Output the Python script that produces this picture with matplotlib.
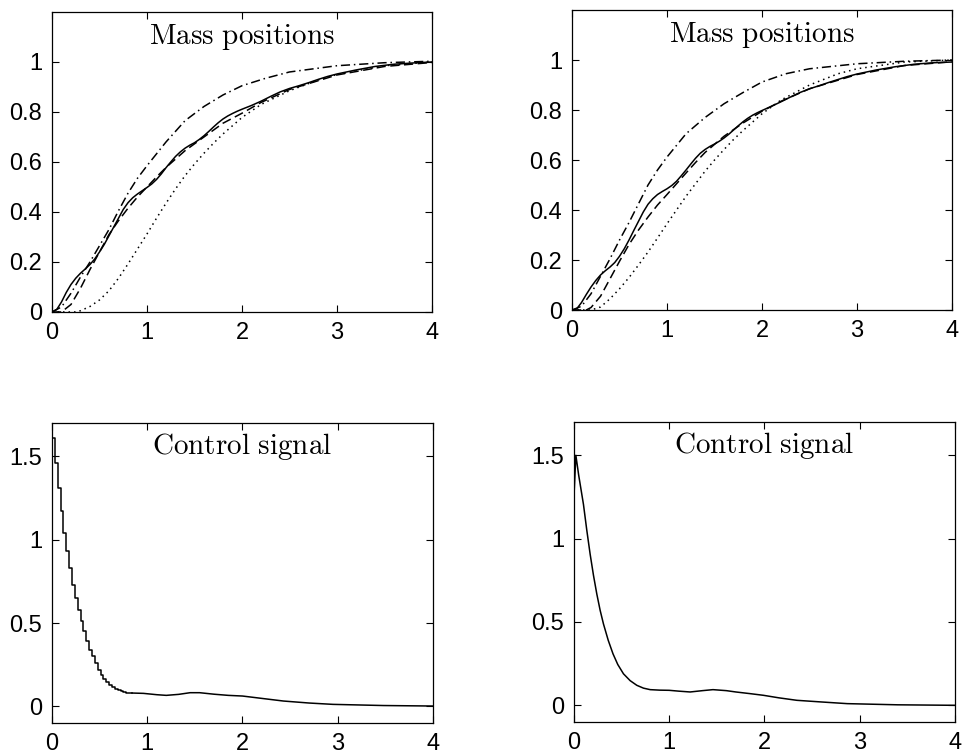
import matplotlib
matplotlib.use('Agg')
import matplotlib.pyplot as plt

plt.rcParams['font.family'] = ['Liberation Sans', 'DejaVu Sans']
plt.rcParams['mathtext.fontset'] = 'cm'

# ---- mass positions, left panel ----
tl_solid_t = [0.00, 0.05, 0.10, 0.15, 0.20, 0.25, 0.30, 0.35, 0.40, 0.45, 0.50, 0.55, 0.60, 0.65,
              0.70, 0.75, 0.80, 0.85, 0.90, 0.95, 1.00, 1.05, 1.10, 1.15, 1.20, 1.25, 1.30, 1.35,
              1.40, 1.45, 1.50, 1.55, 1.60, 1.65, 1.70, 1.75, 1.80, 1.85, 1.90, 1.95, 2.00, 2.10,
              2.20, 2.30, 2.40, 2.50, 2.60, 2.70, 2.80, 2.90, 3.00, 3.20, 3.40, 3.60, 3.80, 4.00]
tl_solid_y = [0.000, 0.010, 0.040, 0.078, 0.110, 0.135, 0.155, 0.172, 0.190, 0.212, 0.240, 0.270,
              0.305, 0.340, 0.375, 0.410, 0.437, 0.457, 0.472, 0.485, 0.498, 0.512, 0.530, 0.552,
              0.577, 0.600, 0.622, 0.640, 0.655, 0.667, 0.677, 0.690, 0.705, 0.722, 0.740, 0.757,
              0.772, 0.784, 0.794, 0.803, 0.811, 0.826, 0.843, 0.862, 0.880, 0.894, 0.905, 0.917,
              0.930, 0.942, 0.952, 0.968, 0.982, 0.991, 0.996, 1.000]
tl_dash_t = [0.00, 0.10, 0.20, 0.30, 0.40, 0.50, 0.60, 0.70, 0.80, 0.90, 1.00, 1.10, 1.20, 1.40,
             1.60, 1.80, 2.00, 2.20, 2.50, 3.00, 3.50, 4.00]
tl_dash_y = [0.000, 0.000, 0.030, 0.095, 0.170, 0.240, 0.310, 0.365, 0.415, 0.460, 0.500, 0.540,
             0.578, 0.645, 0.700, 0.755, 0.795, 0.838, 0.890, 0.948, 0.982, 0.998]
tl_dashdot_t = [0.00, 0.10, 0.20, 0.30, 0.40, 0.50, 0.60, 0.70, 0.80, 0.90, 1.00, 1.20, 1.40,
                1.60, 1.80, 2.00, 2.25, 2.50, 3.00, 3.50, 4.00]
tl_dashdot_y = [0.000, 0.020, 0.075, 0.140, 0.200, 0.265, 0.330, 0.405, 0.475, 0.535, 0.585,
                0.680, 0.765, 0.822, 0.868, 0.905, 0.935, 0.960, 0.985, 0.997, 1.003]
tl_dot_t = [0.00, 0.25, 0.30, 0.40, 0.50, 0.60, 0.70, 0.80, 0.90, 1.00, 1.10, 1.20, 1.30, 1.40,
            1.50, 1.60, 1.70, 1.80, 2.00, 2.20, 2.50, 2.80, 3.00, 3.50, 4.00]
tl_dot_y = [0.000, 0.000, 0.005, 0.022, 0.048, 0.085, 0.135, 0.192, 0.252, 0.312, 0.375, 0.435,
            0.492, 0.545, 0.592, 0.635, 0.675, 0.712, 0.778, 0.830, 0.885, 0.928, 0.950, 0.985,
            1.000]

# ---- mass positions, right panel ----
tr_solid_t = tl_solid_t
tr_solid_y = [0.000, 0.005, 0.030, 0.062, 0.092, 0.118, 0.140, 0.157, 0.172, 0.190, 0.215, 0.245,
              0.280, 0.318, 0.355, 0.392, 0.423, 0.445, 0.462, 0.474, 0.485, 0.498, 0.515, 0.537,
              0.560, 0.584, 0.607, 0.627, 0.642, 0.654, 0.664, 0.675, 0.688, 0.703, 0.720, 0.737,
              0.753, 0.767, 0.779, 0.789, 0.798, 0.815, 0.833, 0.852, 0.870, 0.885, 0.897, 0.910,
              0.922, 0.934, 0.944, 0.960, 0.973, 0.983, 0.989, 0.992]
tr_dash_t = [0.00, 0.15, 0.20, 0.30, 0.40, 0.50, 0.60, 0.70, 0.80, 0.90, 1.00, 1.10, 1.20, 1.30,
             1.40, 1.60, 1.80, 2.00, 2.20, 2.50, 3.00, 3.50, 4.00]
tr_dash_y = [0.000, 0.000, 0.010, 0.055, 0.125, 0.195, 0.262, 0.320, 0.372, 0.420, 0.462, 0.505,
             0.548, 0.590, 0.630, 0.695, 0.748, 0.795, 0.835, 0.885, 0.942, 0.978, 0.993]
tr_dashdot_t = [0.00, 0.10, 0.20, 0.30, 0.40, 0.50, 0.60, 0.70, 0.80, 0.90, 1.00, 1.20, 1.40,
                1.60, 1.80, 2.00, 2.25, 2.50, 3.00, 3.50, 4.00]
tr_dashdot_y = [0.000, 0.015, 0.065, 0.135, 0.205, 0.280, 0.350, 0.425, 0.500, 0.560, 0.612,
                0.705, 0.770, 0.825, 0.870, 0.912, 0.945, 0.965, 0.985, 0.995, 1.000]
tr_dot_t = [0.00, 0.20, 0.30, 0.40, 0.50, 0.60, 0.70, 0.80, 0.90, 1.00, 1.10, 1.20, 1.30, 1.40,
            1.50, 1.60, 1.70, 1.80, 2.00, 2.20, 2.50, 2.80, 3.00, 3.50, 4.00]
tr_dot_y = [0.000, 0.000, 0.012, 0.045, 0.085, 0.130, 0.180, 0.232, 0.288, 0.345, 0.400, 0.455,
            0.505, 0.555, 0.600, 0.642, 0.682, 0.718, 0.785, 0.840, 0.900, 0.945, 0.965, 0.992,
            1.000]

# ---- control signal, left panel (zero order hold, then smooth tail) ----
bl_zoh_t = [0.00, 0.03, 0.06, 0.09, 0.12, 0.15, 0.18, 0.21, 0.24, 0.27, 0.30, 0.33, 0.36, 0.39,
            0.42, 0.45, 0.48, 0.51, 0.54, 0.57, 0.60, 0.63, 0.66, 0.69, 0.72, 0.75, 0.78, 0.81,
            0.84]
bl_zoh_u = [1.61, 1.46, 1.31, 1.17, 1.04, 0.93, 0.83, 0.73, 0.65, 0.58, 0.51, 0.45, 0.39, 0.34,
            0.30, 0.26, 0.22, 0.19, 0.165, 0.145, 0.13, 0.115, 0.104, 0.096, 0.090, 0.086, 0.083,
            0.081, 0.080]
bl_tail_t = [0.84, 0.96, 1.10, 1.20, 1.33, 1.45, 1.55, 1.70, 1.85, 2.00, 2.20, 2.43, 2.70, 2.95,
             3.48, 4.00]
bl_tail_u = [0.080, 0.078, 0.070, 0.066, 0.072, 0.082, 0.082, 0.073, 0.066, 0.062, 0.048, 0.032,
             0.020, 0.012, 0.005, 0.002]

# ---- control signal, right panel ----
br_t = [0.00, 0.02, 0.05, 0.10, 0.135, 0.17, 0.205, 0.24, 0.275, 0.31, 0.36, 0.41, 0.46, 0.52,
        0.59, 0.66, 0.73, 0.80, 0.90, 1.00, 1.10, 1.22, 1.35, 1.46, 1.60, 1.70, 1.85, 1.99, 2.15,
        2.34, 2.60, 2.87, 3.40, 4.00]
br_u = [1.25, 1.50, 1.38, 1.205, 1.05, 0.907, 0.78, 0.668, 0.57, 0.488, 0.39, 0.309, 0.245,
        0.189, 0.148, 0.120, 0.103, 0.094, 0.091, 0.090, 0.085, 0.080, 0.088, 0.094, 0.088, 0.080,
        0.070, 0.060, 0.045, 0.030, 0.020, 0.010, 0.003, 0.000]

DASH = (6, 3)
DOT = (1, 2.6)
DASHDOT = (6, 2.5, 1, 2.5)
LW = 1.1

fig = plt.figure(figsize=(9.63, 7.53), dpi=100)
ax_tl = fig.add_axes([0.054, 0.5857, 0.3946, 0.3984])
ax_tr = fig.add_axes([0.594, 0.5883, 0.3946, 0.3984])
ax_bl = fig.add_axes([0.054, 0.0398, 0.3956, 0.3984])
ax_br = fig.add_axes([0.596, 0.0412, 0.3956, 0.3984])

for ax, s, d, dd, dt in [
    (ax_tl, (tl_solid_t, tl_solid_y), (tl_dash_t, tl_dash_y), (tl_dashdot_t, tl_dashdot_y), (tl_dot_t, tl_dot_y)),
    (ax_tr, (tr_solid_t, tr_solid_y), (tr_dash_t, tr_dash_y), (tr_dashdot_t, tr_dashdot_y), (tr_dot_t, tr_dot_y)),
]:
    ax.plot(*s, color='k', lw=LW)
    ax.plot(*d, color='k', lw=LW, dashes=DASH)
    ax.plot(*dd, color='k', lw=LW, dashes=DASHDOT)
    ax.plot(*dt, color='k', lw=LW, dashes=DOT)
    ax.set_ylim(0, 1.2)
    ax.set_yticks([0, 0.2, 0.4, 0.6, 0.8, 1])
    ax.set_yticklabels(['0', '0.2', '0.4', '0.6', '0.8', '1'])
    ax.text(2, 1.1, r'$\mathrm{Mass\ positions}$', ha='center', va='center', fontsize=21)

ax_bl.step(bl_zoh_t, bl_zoh_u, where='post', color='k', lw=LW)
ax_bl.plot(bl_tail_t, bl_tail_u, color='k', lw=LW)
ax_br.plot(br_t, br_u, color='k', lw=LW)
for ax in (ax_bl, ax_br):
    ax.set_ylim(-0.1, 1.7)
    ax.set_yticks([0, 0.5, 1, 1.5])
    ax.set_yticklabels(['0', '0.5', '1', '1.5'])
    ax.text(2, 1.56, r'$\mathrm{Control\ signal}$', ha='center', va='center', fontsize=21)

for ax in (ax_tl, ax_tr, ax_bl, ax_br):
    ax.set_xlim(0, 4)
    ax.set_xticks([0, 1, 2, 3, 4])
    ax.tick_params(direction='in', top=True, right=True, length=5, width=0.8,
                   labelsize=17, pad=7)
    for sp in ax.spines.values():
        sp.set_linewidth(0.9)

fig.savefig('out.png', dpi=100)
